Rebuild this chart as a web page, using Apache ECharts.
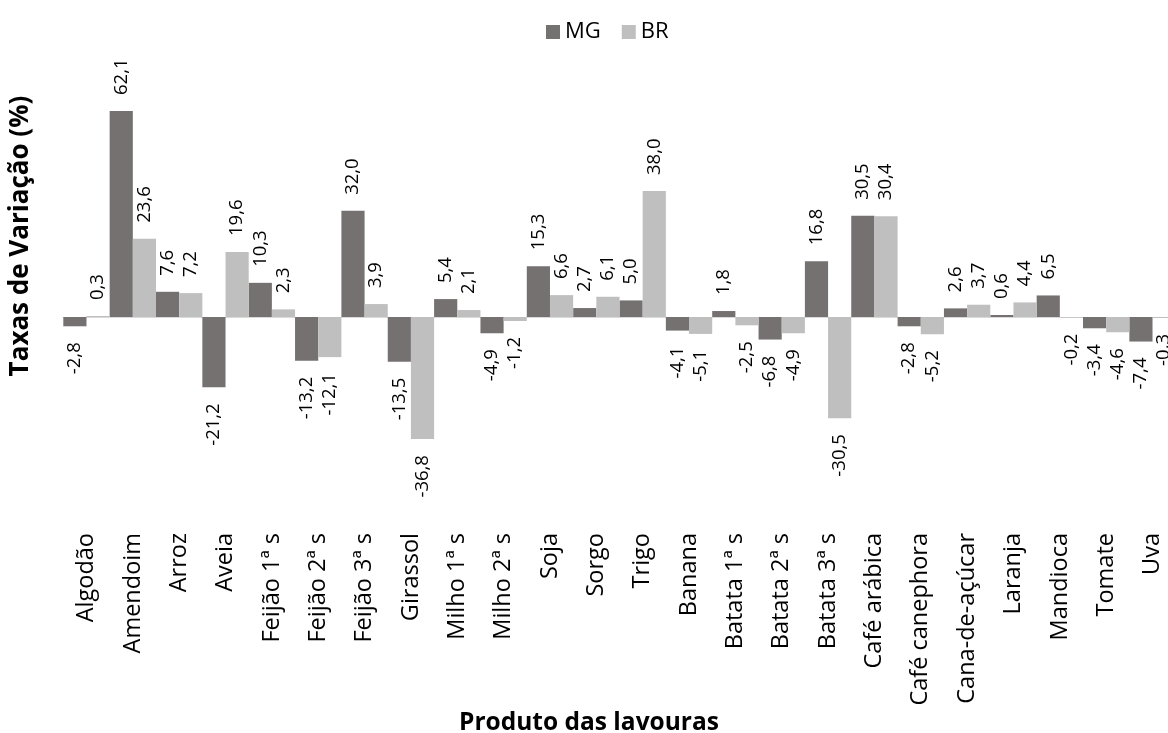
<!DOCTYPE html>
<html>
<head>
<meta charset="utf-8">
<script src="https://cdn.jsdelivr.net/npm/echarts@6/dist/echarts.min.js"></script>
<style>
  html, body { margin: 0; padding: 0; background: #fff; }
  #chart { width: 1168px; height: 733px; }
</style>
</head>
<body>
<div id="chart"></div>
<script>
// Produtos das lavouras
const categories = [
  'Algodão', 'Amendoim', 'Arroz', 'Aveia', 'Feijão 1ª s', 'Feijão 2ª s', 'Feijão 3ª s',
  'Girassol', 'Milho 1ª s', 'Milho 2ª s', 'Soja', 'Sorgo', 'Trigo', 'Banana',
  'Batata 1ª s', 'Batata 2ª s', 'Batata 3ª s', 'Café arábica', 'Café canephora',
  'Cana-de-açúcar', 'Laranja', 'Mandioca', 'Tomate', 'Uva'
];

// Taxas de variação (%) - Minas Gerais
const mgValues = [
  -2.8, 62.1, 7.6, -21.2, 10.3, -13.2, 32.0,
  -13.5, 5.4, -4.9, 15.3, 2.7, 5.0, -4.1,
  1.8, -6.8, 16.8, 30.5, -2.8,
  2.6, 0.6, 6.5, -3.4, -7.4
];

// Taxas de variação (%) - Brasil
const brValues = [
  0.3, 23.6, 7.2, 19.6, 2.3, -12.1, 3.9,
  -36.8, 2.1, -1.2, 6.6, 6.1, 38.0, -5.1,
  -2.5, -4.9, -30.5, 30.4, -5.2,
  3.7, 4.4, -0.2, -4.6, -0.3
];

const seriesNames = ['MG', 'BR'];
const yTitle = 'Taxas de Variação (%)';
const xTitle = 'Produto das lavouras';

const FONT = '"Open Sans", "Noto Sans", sans-serif';

function fmt(v) {
  return v.toFixed(1).replace('.', ',');
}

// Labels go above positive bars and below negative ones, written vertically
function withLabels(values) {
  return values.map(v => ({
    value: v,
    label: {
      position: v < 0 ? 'bottom' : 'top',
      align: v < 0 ? 'right' : 'left'
    }
  }));
}

const barLabel = {
  show: true,
  rotate: 90,
  distance: 16,
  verticalAlign: 'middle',
  fontFamily: FONT,
  fontSize: 18.5,
  color: '#000',
  formatter: p => fmt(p.value)
};

const chart = echarts.init(document.getElementById('chart'), null, { renderer: 'canvas' });

chart.setOption({
  animation: false,
  backgroundColor: '#fff',
  textStyle: { fontFamily: FONT },
  legend: {
    data: seriesNames,
    left: 541,
    top: 16,
    icon: 'rect',
    itemWidth: 14,
    itemHeight: 14,
    itemGap: 21,
    textStyle: { fontFamily: FONT, fontSize: 22, color: '#000' }
  },
  grid: {
    left: 63.3,
    right: -7.7,
    top: 84.81,
    bottom: 216.98,
    containLabel: false,
    outerBoundsMode: 'none'
  },
  xAxis: [
    {
      type: 'category',
      data: categories,
      position: 'bottom',
      axisLine: { show: false, onZero: false },
      axisTick: { show: false },
      splitLine: { show: false },
      axisLabel: {
        interval: 0,
        rotate: 90,
        margin: 17,
        fontFamily: FONT,
        fontSize: 23.5,
        color: '#000'
      }
    },
    {
      // thin baseline at zero
      type: 'category',
      data: categories,
      position: 'bottom',
      axisLine: { show: true, onZero: true, lineStyle: { color: '#d9d9d9', width: 1 } },
      axisTick: { show: false },
      axisLabel: { show: false },
      splitLine: { show: false }
    }
  ],
  yAxis: {
    type: 'value',
    min: -60,
    max: 70,
    axisLine: { show: false },
    axisTick: { show: false },
    axisLabel: { show: false },
    splitLine: { show: false }
  },
  graphic: [
    {
      type: 'text',
      x: 21,
      y: 236,
      rotation: Math.PI / 2,
      style: {
        text: yTitle,
        font: 'bold 26px ' + FONT,
        fill: '#000',
        align: 'center',
        verticalAlign: 'middle'
      }
    },
    {
      type: 'text',
      x: 589,
      y: 723,
      style: {
        text: xTitle,
        font: 'bold 24.5px ' + FONT,
        fill: '#000',
        align: 'center',
        verticalAlign: 'middle'
      }
    }
  ],
  series: [
    {
      name: seriesNames[0],
      type: 'bar',
      xAxisIndex: 0,
      barGap: '0%',
      barCategoryGap: '0%',
      itemStyle: { color: '#767171' },
      label: barLabel,
      data: withLabels(mgValues)
    },
    {
      name: seriesNames[1],
      type: 'bar',
      xAxisIndex: 0,
      barGap: '0%',
      barCategoryGap: '0%',
      itemStyle: { color: '#bfbfbf' },
      label: barLabel,
      data: withLabels(brValues)
    }
  ]
});
</script>
</body>
</html>
